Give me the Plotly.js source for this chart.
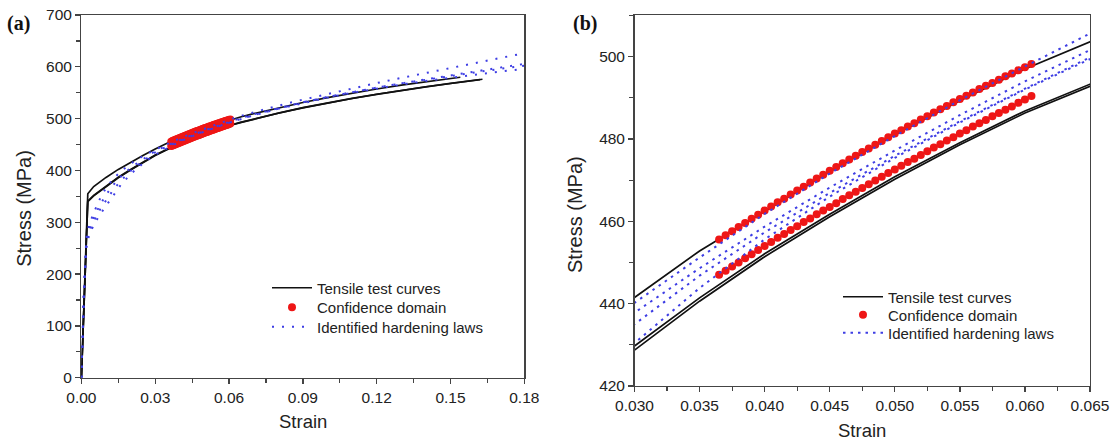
<!DOCTYPE html>
<html><head><meta charset="utf-8">
<script src="https://cdn.plot.ly/plotly-3.0.1.min.js"></script>
<style>html,body{margin:0;padding:0;background:#fff}#chart{width:1116px;height:442px}</style>
</head><body><div id="chart"></div>
<script>
// ---- Tensile test curves (black) ----
const strainTestA = [0, 0.0026, 0.005, 0.01, 0.015, 0.02, 0.025, 0.03, 0.035, 0.04, 0.045, 0.05, 0.055, 0.06, 0.065, 0.07, 0.08, 0.09, 0.10, 0.11, 0.12, 0.13, 0.14, 0.15, 0.154];
const stressTestA = [0, 355, 369, 386.5, 402, 416, 429, 441.5, 452.8, 462.5, 472.0, 481.0, 489.3, 497.0, 503.6, 509.6, 521, 531.2, 540.6, 549.2, 557.2, 564.6, 571.4, 577.6, 579.8];
const strainTestB = [0, 0.0026, 0.005, 0.01, 0.015, 0.02, 0.025, 0.03, 0.035, 0.04, 0.045, 0.05, 0.055, 0.06, 0.065, 0.07, 0.08, 0.09, 0.10, 0.11, 0.12, 0.13, 0.14, 0.15, 0.163];
const stressTestB = [0, 340, 351, 369, 386, 401, 415.5, 428.7, 440.6, 451.4, 461.1, 470.2, 478.6, 486.3, 492.8, 498.8, 510.3, 520.8, 530.3, 538.8, 546.8, 554.3, 561.3, 567.8, 576.0];
const strainTestC = [0, 0.0026, 0.005, 0.01, 0.015, 0.02, 0.025, 0.03, 0.035, 0.04, 0.045, 0.05, 0.055, 0.06, 0.065, 0.07, 0.08, 0.09, 0.10, 0.11, 0.12, 0.13, 0.14, 0.15, 0.162];
const stressTestC = [0, 341, 352, 370, 387, 402, 416.5, 429.7, 441.4, 452.1, 461.7, 470.8, 479.1, 486.8, 493.3, 499.3, 510.7, 521.1, 530.5, 539.0, 547.0, 554.5, 561.5, 568.0, 575.3];

// ---- Identified hardening laws (blue dotted) ----
const strainLaw = [0, 0.001, 0.002, 0.003, 0.004, 0.005, 0.006, 0.008, 0.010, 0.013, 0.016, 0.020, 0.025, 0.030, 0.035, 0.040, 0.045, 0.050, 0.055, 0.060, 0.065, 0.070, 0.080, 0.090, 0.100, 0.110, 0.120, 0.130, 0.140, 0.150, 0.160, 0.170, 0.180];
const stressLaw1 = [0, 162, 270, 293, 306, 318, 329, 350, 366, 384, 398, 413, 427.5, 440.2, 451.2, 461.8, 471.6, 480.7, 489.4, 497.6, 505.6, 512.4, 525.0, 536.7, 547.8, 558.4, 568.6, 578.5, 588.1, 597.5, 607.2, 616.8, 626.3];
const stressLaw2 = [0, 162, 265, 285, 298, 309, 319, 337, 353, 372, 388, 405, 422, 437.8, 448.6, 458.7, 468.2, 477.2, 485.8, 494.0, 501.6, 508.3, 520.5, 531.5, 541.6, 551.0, 559.8, 568.0, 576.0, 583.6, 591.0, 598.3, 605.5];
const stressLaw3 = [0, 160, 250, 272, 285, 295, 303, 318, 332, 353, 372, 393, 413.5, 430.4, 443.8, 455.6, 466.0, 475.4, 484.0, 492.0, 499.4, 506.3, 519.0, 530.3, 540.5, 549.8, 558.3, 565.8, 572.8, 579.2, 585.2, 590.8, 596.0];
const stressLaw4 = [0, 161, 258, 279, 292, 302, 311, 328, 343, 363, 380, 399, 418, 435.0, 446.8, 457.3, 466.9, 475.9, 484.3, 492.2, 499.8, 506.9, 519.9, 531.5, 541.9, 551.3, 559.9, 567.9, 575.4, 582.5, 589.3, 595.9, 602.3];

// ---- Confidence domain (red dots) ----
const strainConf = [0.0365, 0.0370, 0.0375, 0.0380, 0.0385, 0.0390, 0.0395, 0.0400, 0.0405, 0.0410, 0.0415, 0.0420, 0.0425, 0.0430, 0.0435, 0.0440, 0.0445, 0.0450, 0.0455, 0.0460, 0.0465, 0.0470, 0.0475, 0.0480, 0.0485, 0.0490, 0.0495, 0.0500, 0.0505, 0.0510, 0.0515, 0.0520, 0.0525, 0.0530, 0.0535, 0.0540, 0.0545, 0.0550, 0.0555, 0.0560, 0.0565, 0.0570, 0.0575, 0.0580, 0.0585, 0.0590, 0.0595, 0.0600, 0.0605];
const stressConfUpper = [455.6, 456.6, 457.6, 458.6, 459.6, 460.6, 461.6, 462.6, 463.6, 464.6, 465.5, 466.5, 467.5, 468.4, 469.4, 470.4, 471.3, 472.3, 473.2, 474.1, 475.0, 475.9, 476.8, 477.7, 478.6, 479.5, 480.4, 481.3, 482.1, 483.0, 483.8, 484.7, 485.5, 486.4, 487.2, 488.0, 488.9, 489.7, 490.5, 491.3, 492.1, 492.9, 493.6, 494.4, 495.2, 495.9, 496.7, 497.4, 498.2];
const stressConfLower = [447.0, 448.0, 449.0, 450.0, 451.0, 452.0, 453.0, 454.0, 455.0, 456.0, 456.9, 457.9, 458.8, 459.8, 460.7, 461.7, 462.6, 463.5, 464.4, 465.4, 466.3, 467.2, 468.1, 469.0, 469.9, 470.8, 471.7, 472.6, 473.5, 474.4, 475.2, 476.1, 477.0, 477.9, 478.7, 479.6, 480.4, 481.3, 482.1, 483.0, 483.8, 484.6, 485.5, 486.3, 487.1, 487.9, 488.8, 489.6, 490.4];

// ---- Labels ----
const seriesNames = ['Tensile test curves', 'Confidence domain', 'Identified hardening laws'];
const panelLabels = ['(a)', '(b)'];
const xTitle = 'Strain';
const yTitle = 'Stress (MPa)';

const FONT = '"Liberation Sans", Arial, Helvetica, sans-serif';
const BLACK = '#111';
const RED = 'rgb(238,22,22)';
const BLUE = 'rgb(62,62,228)';
const AX = '#444';

// legends: one per entry so each row sits where the reference has it
function panelTraces(xa, ya, legIds, dash, msize) {
  const t = [];
  [[strainTestA, stressTestA], [strainTestB, stressTestB], [strainTestC, stressTestC]].forEach((c, i) => t.push({
    type: 'scatter', mode: 'lines', x: c[0], y: c[1], xaxis: xa, yaxis: ya,
    line: {color: BLACK, width: 1.7}, name: seriesNames[0], legend: legIds[0], showlegend: i === 0, hoverinfo: 'skip'
  }));
  [stressConfUpper, stressConfLower].forEach((s, i) => t.push({
    type: 'scatter', mode: 'markers', x: strainConf, y: s, xaxis: xa, yaxis: ya,
    marker: {color: RED, size: msize, line: {width: 0}}, name: seriesNames[1], legend: legIds[1], showlegend: i === 0, hoverinfo: 'skip'
  }));
  [stressLaw1, stressLaw2, stressLaw3, stressLaw4].forEach((s, i) => t.push({
    type: 'scatter', mode: 'lines', x: strainLaw, y: s, xaxis: xa, yaxis: ya,
    line: {color: BLUE, width: 2, dash: dash}, name: seriesNames[2], legend: legIds[2], showlegend: i === 0, hoverinfo: 'skip'
  }));
  return t;
}

const data = panelTraces('x', 'y', ['legend', 'legend2', 'legend3'], '2px,8px', 8)
  .concat(panelTraces('x2', 'y2', ['legend4', 'legend5', 'legend6'], '2.5px,5px', 8));

function axis(extra) {
  return Object.assign({
    showgrid: false, zeroline: false, showline: true, mirror: true,
    linecolor: AX, linewidth: 1.4, ticks: 'outside', ticklen: 5, tickwidth: 1.3, tickcolor: AX,
    tickfont: {family: FONT, size: 15.5, color: '#222'}, fixedrange: true
  }, extra);
}
const minor = (d) => ({dtick: d, ticks: 'outside', ticklen: 4, tickwidth: 1.2, tickcolor: AX, showgrid: false});
const W = 1116, H = 442;
const px = (v) => v / W, py = (v) => (H - v) / H;
const leg = (x, y) => ({x: px(x), y: py(y), xanchor: 'left', yanchor: 'middle', bgcolor: 'rgba(0,0,0,0)', borderwidth: 0,
  font: {family: FONT, size: 15, color: '#222'}, itemwidth: 40});

const layout = {
  width: W, height: H, margin: {l: 0, r: 0, t: 0, b: 0},
  paper_bgcolor: '#fff', plot_bgcolor: '#fff', showlegend: true,
  xaxis: axis({domain: [px(81.4), px(524.3)], range: [0, 0.18], tick0: 0, dtick: 0.03, tickformat: '.2f', minor: minor(0.015), anchor: 'y'}),
  yaxis: axis({domain: [py(377.7), py(15)], range: [0, 700], tick0: 0, dtick: 100, minor: minor(50), anchor: 'x'}),
  xaxis2: axis({domain: [px(634.5), px(1090)], range: [0.030, 0.065], tick0: 0.03, dtick: 0.005, tickformat: '.3f', minor: minor(0.0025), anchor: 'y2'}),
  yaxis2: axis({domain: [py(386), py(15)], range: [420, 510.1], tick0: 420, dtick: 20, minor: minor(10), anchor: 'x2'}),
  legend: leg(267, 288), legend2: leg(267, 307.5), legend3: leg(267, 327),
  legend4: leg(838, 297), legend5: leg(838, 315), legend6: leg(838, 333),
  annotations: [
    {text: '<b>' + panelLabels[0] + '</b>', xref: 'paper', yref: 'paper', x: px(5), y: py(23), xanchor: 'left', yanchor: 'middle', showarrow: false,
      font: {family: '"Liberation Serif", "Times New Roman", serif', size: 20, color: '#111'}},
    {text: '<b>' + panelLabels[1] + '</b>', xref: 'paper', yref: 'paper', x: px(571), y: py(23.5), xanchor: 'left', yanchor: 'middle', showarrow: false,
      font: {family: '"Liberation Serif", "Times New Roman", serif', size: 20, color: '#111'}},
    {text: xTitle, xref: 'paper', yref: 'paper', x: px(303), y: py(421.7), xanchor: 'center', yanchor: 'middle', showarrow: false,
      font: {family: FONT, size: 18.5, color: '#222'}},
    {text: yTitle, xref: 'paper', yref: 'paper', x: px(24), y: py(208.8), xanchor: 'center', yanchor: 'middle', textangle: -90, showarrow: false,
      font: {family: FONT, size: 20, color: '#222'}},
    {text: xTitle, xref: 'paper', yref: 'paper', x: px(862), y: py(430), xanchor: 'center', yanchor: 'middle', showarrow: false,
      font: {family: FONT, size: 18.5, color: '#222'}},
    {text: yTitle, xref: 'paper', yref: 'paper', x: px(575), y: py(215), xanchor: 'center', yanchor: 'middle', textangle: -90, showarrow: false,
      font: {family: FONT, size: 20, color: '#222'}}
  ]
};

Plotly.newPlot('chart', data, layout, {displayModeBar: false, staticPlot: true});
</script>
</body></html>
